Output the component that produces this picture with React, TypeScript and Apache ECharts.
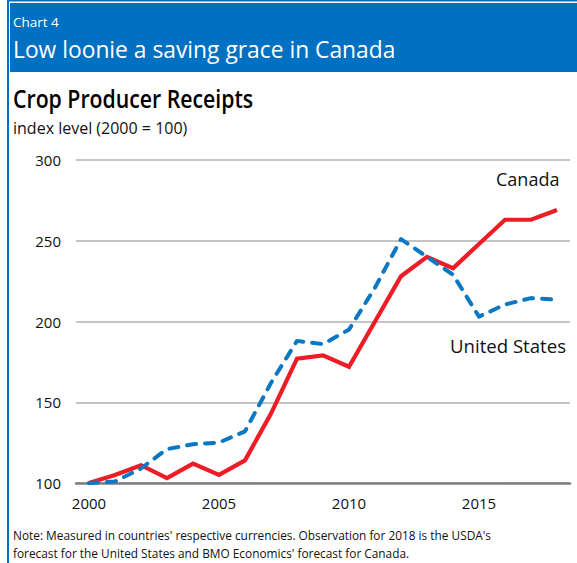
import React, { useEffect, useRef } from "react";
import * as echarts from "echarts";

const years = ["2000","2001","2002","2003","2004","2005","2006","2007","2008","2009","2010","2011","2012","2013","2014","2015","2016","2017","2018"];
const canada = [100, 105, 111, 103, 112, 105, 114, 143, 177, 179, 172, 200, 228, 240, 233, 248, 263, 263, 269];
const unitedStates = [100, 101, 109, 121, 124, 125, 132, 162, 188, 186, 195, 221, 251, 240, 229, 203, 210.5, 214.5, 213.5];
const yTicks = { min: 100, max: 300, interval: 50 };

const chartLabel = "Chart 4";
const titleText = "Low loonie a saving grace in Canada";
const headingText = "Crop Producer Receipts";
const unitText = "index level (2000 = 100)";
const noteLines = [
  "Note: Measured in countries' respective currencies. Observation for 2018 is the USDA's",
  "forecast for the United States and BMO Economics' forecast for Canada.",
];

const BLUE = "#0071C2";
const RED = "#EE1C25";
const LINE_BLUE = "#0A78C3";
const FONT = '"Open Sans", "Noto Sans", sans-serif';

export default function App() {
  const ref = useRef<HTMLDivElement>(null);
  useEffect(() => {
    const chart = echarts.init(ref.current!, null, { renderer: "svg" });
    const txt = (text: string, x: number, y: number, size: number, color: string, weight: any = "normal", scaleX = 1) => ({
      type: "text",
      x,
      y,
      scaleX,
      style: { text, fill: color, fontSize: size, fontFamily: FONT, fontWeight: weight, align: "left", verticalAlign: "middle" },
    });
    chart.setOption({
      animation: false,
      backgroundColor: "#ffffff",
      grid: { left: 76, right: 7, top: 160, bottom: 80, containLabel: false },
      xAxis: {
        type: "category",
        data: years,
        boundaryGap: true,
        axisLine: { show: true, lineStyle: { color: "#7f7f7f", width: 2.5 } },
        axisTick: { show: false },
        axisLabel: { interval: 4, color: "#111", fontSize: 15, fontFamily: FONT, margin: 12 },
        splitLine: { show: false },
      },
      yAxis: {
        type: "value",
        min: yTicks.min,
        max: yTicks.max,
        interval: yTicks.interval,
        axisLine: { show: false },
        axisTick: { show: false },
        axisLabel: { color: "#111", fontSize: 15, fontFamily: FONT, margin: 15 },
        splitLine: { show: true, lineStyle: { color: "#b0b0b0", width: 1.5 } },
      },
      series: [
        {
          name: "Canada",
          type: "line",
          data: canada,
          symbol: "none",
          lineStyle: { color: RED, width: 4.2, join: "miter" },
          z: 2,
        },
        {
          name: "United States",
          type: "line",
          data: unitedStates,
          symbol: "none",
          lineStyle: { color: LINE_BLUE, width: 4, type: [9, 9], cap: "round", join: "round" },
          z: 3,
        },
      ],
      graphic: [
        { type: "rect", shape: { x: 7, y: 0, width: 2, height: 563 }, style: { fill: BLUE } },
        { type: "rect", shape: { x: 7, y: 0, width: 570, height: 1.5 }, style: { fill: BLUE } },
        { type: "rect", shape: { x: 10, y: 3, width: 567, height: 69 }, style: { fill: BLUE } },
        txt(chartLabel, 13, 21.5, 13.5, "#ffffff"),
        txt(titleText, 13, 49.5, 22.8, "#ffffff"),
        txt(headingText, 13, 98.5, 25, "#000000", 600, 0.85),
        txt(unitText, 13, 128, 16, "#111111"),
        txt("Canada", 496, 178.5, 18, "#111111"),
        txt("United States", 450, 345, 18.6, "#111111"),
        txt(noteLines[0], 13, 534.5, 11.85, "#111111"),
        txt(noteLines[1], 13, 553, 11.85, "#111111"),
      ],
    });
    return () => chart.dispose();
  }, []);
  return (
    <div
      ref={ref}
      style={{ position: "fixed", left: 0, top: 0, width: 577, height: 563, background: "#fff" }}
    />
  );
}
